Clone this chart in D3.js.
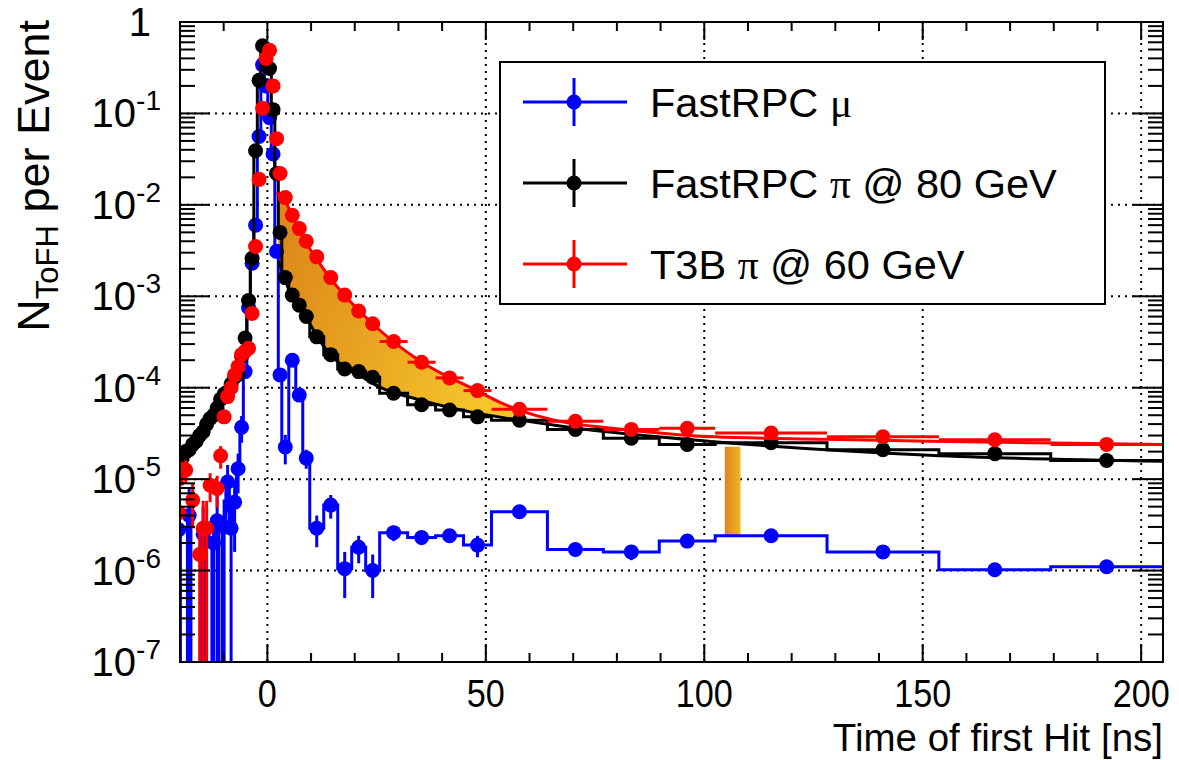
<!DOCTYPE html>
<html>
<head>
<meta charset="utf-8">
<script src="https://cdn.jsdelivr.net/npm/d3@7"></script>
<style>
  body { margin: 0; background: #fff; }
  text { font-family: "Liberation Sans", Arial, Helvetica, sans-serif; fill: #000; }
</style>
</head>
<body>
<div class="main-chart"></div>
<script>
// bin edges in ns (0.8 ns bins around the peak, wider bins in the tail)
const binEdges = [-20.7, -19.9, -19.1, -18.3, -17.5, -16.7, -15.9, -15.1, -14.3, -13.5,
  -12.7, -11.9, -11.1, -10.3, -9.5, -8.7, -7.9, -7.1, -6.3, -5.5,
  -4.7, -3.9, -3.1, -2.3, -1.5, -0.7, 0.1, 0.9, 1.7, 2.5, 3.3,
  4.9, 6.5, 8.1, 9.7,
  12.9, 16.1, 19.3, 22.5, 25.7,
  32.1, 38.5, 44.9, 51.3,
  64.1, 76.9, 89.7, 102.5,
  128.1, 153.7, 179.3, 204.9];

// FastRPC mu
const muVals = [2.8e-6, 0, 0, 4.0e-6, 0, 0, 0, 2.5e-6, 0, 0,
  2.0e-6, 3.5e-6, 0, 3.0e-6, 9.3e-6, 2.9e-6, 5.6e-6, 1.3e-5, 3.7e-5, 1.5e-4,
  7.5e-4, 2.3e-3, 6.0e-3, 0.056, 0.34, 0.20, 0.09, 0.036, 3.1e-3, 1.38e-4,
  2.25e-5, 2.0e-4, 8.3e-5, 1.7e-5,
  2.9e-6, 5.2e-6, 1.05e-6, 1.8e-6, 1.0e-6,
  2.6e-6, 2.3e-6, 2.4e-6, 1.9e-6,
  4.4e-6, 1.7e-6, 1.6e-6, 2.1e-6,
  2.4e-6, 1.6e-6, 1.02e-6, 1.1e-6];
const muErr = [2.8e-6, 0, 0, 4.0e-6, 0, 0, 0, 2.5e-6, 0, 0,
  2.0e-6, 3.5e-6, 0, 3.0e-6, 5.0e-6, 2.9e-6, 4.0e-6, 6.0e-6, 1.2e-5, 2.0e-5,
  5.0e-5, 1.0e-4, 2.0e-4, 1.0e-3, 3.0e-3, 2.0e-3, 1.0e-3, 6.0e-4, 1.0e-4, 2.0e-5,
  8.0e-6, 2.0e-5, 1.2e-5, 4.0e-6,
  1.1e-6, 1.5e-6, 0.55e-6, 0.6e-6, 0.5e-6,
  0.5e-6, 0.4e-6, 0.4e-6, 0.5e-6,
  0.4e-6, 0.25e-6, 0.3e-6, 0.25e-6,
  0.15e-6, 0.15e-6, 0.15e-6, 0.12e-6];

// FastRPC pi @ 80 GeV
const pi80Vals = [1.5e-5, 1.7e-5, 2.0e-5, 2.1e-5, 2.4e-5, 2.6e-5, 3.0e-5, 3.3e-5, 4.0e-5, 4.6e-5,
  5.0e-5, 6.0e-5, 7.5e-5, 8.5e-5, 9.0e-5, 1.1e-4, 1.3e-4, 1.4e-4, 2.2e-4, 3.5e-4,
  9.0e-4, 2.6e-3, 0.039, 0.23, 0.55, 0.50, 0.31, 0.11, 0.022, 5.0e-3,
  1.6e-3, 1.03e-3, 8.0e-4, 6.0e-4,
  3.6e-4, 2.3e-4, 1.6e-4, 1.5e-4, 1.3e-4,
  8.7e-5, 6.5e-5, 5.7e-5, 4.8e-5,
  4.4e-5, 3.5e-5, 2.8e-5, 2.4e-5,
  2.5e-5, 2.1e-5, 1.9e-5, 1.6e-5];
const pi80Err = [4.0e-6, 4.0e-6, 4.0e-6, 4.0e-6, 4.5e-6, 4.5e-6, 5.0e-6, 5.0e-6, 5.5e-6, 6.0e-6,
  6.0e-6, 7.0e-6, 8.0e-6, 8.0e-6, 9.0e-6, 1.0e-5, 1.1e-5, 1.2e-5, 1.5e-5, 2.0e-5,
  4.0e-5, 1.0e-4, 1.0e-3, 4.0e-3, 8.0e-3, 8.0e-3, 5.0e-3, 2.0e-3, 5.0e-4, 1.5e-4,
  5.0e-5, 3.0e-5, 2.5e-5, 2.0e-5,
  1.0e-5, 7.0e-6, 6.0e-6, 6.0e-6, 5.0e-6,
  3.0e-6, 2.5e-6, 2.5e-6, 2.0e-6,
  1.5e-6, 1.2e-6, 1.0e-6, 1.0e-6,
  8.0e-7, 7.0e-7, 7.0e-7, 6.0e-7];

// T3B pi @ 60 GeV (null = empty bin)
const pi60Vals = [4.3e-6, 1.2e-5, 1.26e-5, null, 5.9e-6, null, 1.5e-6, 2.9e-6, 2.9e-6, 8.6e-6,
  null, 7.9e-6, 1.8e-5, 4.8e-5, 8.0e-5, 1.0e-4, 1.38e-4, 1.7e-4, 2.3e-4, 2.5e-4,
  2.7e-4, 6.5e-4, 3.5e-3, 0.019, 0.114, 0.40, 0.49, 0.20, 0.053, 0.022,
  0.012, 7.7e-3, 5.5e-3, 4.0e-3,
  2.7e-3, 1.6e-3, 1.03e-3, 6.9e-4, 5.0e-4,
  3.2e-4, 1.9e-4, 1.28e-4, 9.3e-5,
  5.8e-5, 4.3e-5, 3.5e-5, 3.6e-5,
  3.2e-5, 2.9e-5, 2.7e-5, 2.4e-5];
const pi60Err = [3.0e-6, 3.5e-6, 3.5e-6, 0, 3.0e-6, 0, 1.5e-6, 2.9e-6, 2.9e-6, 3.0e-6,
  0, 3.0e-6, 5.0e-6, 8.0e-6, 1.0e-5, 1.2e-5, 1.4e-5, 1.6e-5, 2.0e-5, 2.2e-5,
  2.4e-5, 5.0e-5, 2.0e-4, 1.0e-3, 4.0e-3, 1.0e-2, 1.0e-2, 6.0e-3, 2.0e-3, 1.0e-3,
  5.0e-4, 3.0e-4, 2.0e-4, 1.6e-4,
  1.0e-4, 6.0e-5, 4.0e-5, 3.0e-5, 2.0e-5,
  1.2e-5, 8.0e-6, 5.0e-6, 4.0e-6,
  2.5e-6, 2.0e-6, 2.0e-6, 2.0e-6,
  1.5e-6, 1.5e-6, 1.5e-6, 1.5e-6];

// fitted curves
const fit80T = [2.5, 3.9, 5.4, 8.9, 11.9, 15.7, 20.3, 25.6, 34.7, 47.7, 53, 69, 102.3, 151.5, 205];
const fit80V = [2.4e-3, 1.6e-3, 1.03e-3, 5.9e-4, 3.3e-4, 2.0e-4, 1.45e-4, 1.02e-4, 7.4e-5, 5.3e-5, 4.8e-5, 3.7e-5, 2.57e-5, 1.83e-5, 1.57e-5];
const fit60T = [2.0, 3.66, 5.65, 8.69, 14.3, 23.9, 35.1, 47.9, 53, 69, 76.7, 102.3, 127.9, 151.5, 205];
const fit60V = [1.34e-2, 1.19e-2, 7.7e-3, 4.0e-3, 1.6e-3, 5.1e-4, 1.93e-4, 9.3e-5, 7.0e-5, 4.1e-5, 3.7e-5, 2.9e-5, 2.73e-5, 2.6e-5, 2.4e-5];

// shaded difference between the two pion curves
const bandT = [2.5, 3.9, 5.5, 8.9, 12, 16, 20, 25.6, 35, 47.7, 53, 60];
const bandTop = [1.3e-2, 1.15e-2, 7.9e-3, 3.9e-3, 2.4e-3, 1.35e-3, 7.8e-4, 4.4e-4, 1.95e-4, 9.4e-5, 7.0e-5, 4.7e-5];
const bandBottom = [2.4e-3, 1.6e-3, 1.03e-3, 5.9e-4, 3.3e-4, 1.95e-4, 1.48e-4, 1.02e-4, 7.3e-5, 5.3e-5, 4.8e-5, 4.7e-5];

// vertical marker bar
const barT = [104.7, 108.3];
const barV = [2.4e-6, 2.26e-5];

const xMajor = [0, 50, 100, 150, 200];
const xMinor = [-10, 10, 20, 30, 40, 60, 70, 80, 90, 110, 120, 130, 140, 160, 170, 180, 190];
const yExponents = [0, -1, -2, -3, -4, -5, -6, -7];

const legendRows = [
  { pre: "FastRPC ", greek: "\u03bc", post: "", color: "#0000ff" },
  { pre: "FastRPC ", greek: "\u03c0", post: " @ 80 GeV", color: "#000000" },
  { pre: "T3B ", greek: "\u03c0", post: " @ 60 GeV", color: "#ff0000" }
];

const W = 1179, H = 760;
const frame = { left: 180, right: 1163, top: 22, bottom: 662 };

const svg = d3.select(".main-chart").append("svg")
  .attr("width", W).attr("height", H);

const x = d3.scaleLinear().domain([-20, 205]).range([frame.left, frame.right]);
const y = d3.scaleLog().domain([1e-7, 1]).range([frame.bottom, frame.top]);
const yv = v => y(Math.max(v, 1e-9));

const defs = svg.append("defs");
defs.append("clipPath").attr("id", "plot-clip")
  .append("rect")
  .attr("x", frame.left).attr("y", frame.top)
  .attr("width", frame.right - frame.left).attr("height", frame.bottom - frame.top);

const bandGrad = defs.append("linearGradient").attr("id", "band-grad")
  .attr("x1", "0%").attr("x2", "100%").attr("y1", "0%").attr("y2", "30%");
bandGrad.append("stop").attr("offset", "0%").attr("stop-color", "#db8418");
bandGrad.append("stop").attr("offset", "100%").attr("stop-color", "#f5c52b");

const barGrad = defs.append("linearGradient").attr("id", "bar-grad")
  .attr("x1", "0%").attr("x2", "100%");
barGrad.append("stop").attr("offset", "0%").attr("stop-color", "#db861c");
barGrad.append("stop").attr("offset", "100%").attr("stop-color", "#f0b52c");

// grid
const grid = svg.append("g").attr("stroke", "#000").attr("stroke-width", 2)
  .attr("stroke-dasharray", "2,5");
grid.selectAll(".gx").data(xMajor).join("line")
  .attr("x1", d => x(d)).attr("x2", d => x(d))
  .attr("y1", frame.top).attr("y2", frame.bottom);
grid.selectAll(".gy").data(yExponents.slice(1, -1)).join("line")
  .attr("x1", frame.left).attr("x2", frame.right)
  .attr("y1", d => y(Math.pow(10, d))).attr("y2", d => y(Math.pow(10, d)));

const plot = svg.append("g").attr("clip-path", "url(#plot-clip)");

const bins = d3.range(binEdges.length - 1).map(i => ({
  lo: binEdges[i], hi: binEdges[i + 1], c: (binEdges[i] + binEdges[i + 1]) / 2
}));

// shaded band between the two fits
const band = bandT.map((t, i) => ({ t, top: bandTop[i], bot: bandBottom[i] }));
plot.append("path")
  .datum(band)
  .attr("fill", "url(#band-grad)")
  .attr("d", d3.area().curve(d3.curveMonotoneX)
    .x(d => x(d.t)).y0(d => y(d.bot)).y1(d => y(d.top)));

plot.append("rect")
  .attr("x", x(barT[0])).attr("width", x(barT[1]) - x(barT[0]))
  .attr("y", y(barV[1])).attr("height", y(barV[0]) - y(barV[1]))
  .attr("fill", "url(#bar-grad)");

function stepLine(vals) {
  const pts = [];
  bins.forEach((b, i) => {
    const v = vals[i] == null ? 0 : vals[i];
    pts.push([x(b.lo), yv(v)], [x(b.hi), yv(v)]);
  });
  return d3.line()(pts);
}

function drawSeries(vals, errs, color, opts) {
  const g = plot.append("g");
  if (opts.step) {
    g.append("path").attr("d", stepLine(vals))
      .attr("fill", "none").attr("stroke", color).attr("stroke-width", 3);
  }
  const pts = bins.map((b, i) => ({ b, v: vals[i], e: errs[i] }))
    .filter(d => d.v != null && d.v > 0);
  g.selectAll(".ey").data(pts).join("line")
    .attr("x1", d => x(d.b.c)).attr("x2", d => x(d.b.c))
    .attr("y1", d => y(d.v + d.e)).attr("y2", d => yv(d.v - d.e))
    .attr("stroke", color).attr("stroke-width", 3);
  if (opts.xerr) {
    g.selectAll(".ex").data(pts).join("line")
      .attr("x1", d => x(d.b.lo)).attr("x2", d => x(d.b.hi))
      .attr("y1", d => y(d.v)).attr("y2", d => y(d.v))
      .attr("stroke", color).attr("stroke-width", 3);
  }
  g.selectAll("circle").data(pts).join("circle")
    .attr("cx", d => x(d.b.c)).attr("cy", d => y(d.v)).attr("r", 7.5)
    .attr("fill", color);
}

function drawFit(ts, vs, color) {
  plot.append("path")
    .datum(ts.map((t, i) => [x(t), y(vs[i])]))
    .attr("d", d3.line().curve(d3.curveMonotoneX))
    .attr("fill", "none").attr("stroke", color).attr("stroke-width", 3);
}

drawSeries(muVals, muErr, "#0000ff", { step: true });
drawSeries(pi80Vals, pi80Err, "#000000", { step: true });
drawFit(fit80T, fit80V, "#000000");
drawSeries(pi60Vals, pi60Err, "#ff0000", { xerr: true });
drawFit(fit60T, fit60V, "#ff0000");

// frame and ticks
const axes = svg.append("g").attr("stroke", "#000").attr("stroke-width", 2);
axes.append("rect")
  .attr("x", frame.left).attr("y", frame.top)
  .attr("width", frame.right - frame.left).attr("height", frame.bottom - frame.top)
  .attr("fill", "none");

const xTicks = xMajor.map(v => ({ v, len: 18 })).concat(xMinor.map(v => ({ v, len: 9 })));
axes.selectAll(".xb").data(xTicks).join("line")
  .attr("x1", d => x(d.v)).attr("x2", d => x(d.v))
  .attr("y1", frame.bottom).attr("y2", d => frame.bottom - d.len);
axes.selectAll(".xt").data(xTicks).join("line")
  .attr("x1", d => x(d.v)).attr("x2", d => x(d.v))
  .attr("y1", frame.top).attr("y2", d => frame.top + d.len);

const yTicks = [];
yExponents.slice(1).forEach(p => {
  yTicks.push({ v: Math.pow(10, p), len: 30 });
  for (let k = 2; k <= 9; k++) yTicks.push({ v: k * Math.pow(10, p), len: 15 });
});
axes.selectAll(".yl").data(yTicks).join("line")
  .attr("x1", frame.left).attr("x2", d => frame.left + d.len)
  .attr("y1", d => y(d.v)).attr("y2", d => y(d.v));
axes.selectAll(".yr").data(yTicks).join("line")
  .attr("x1", frame.right).attr("x2", d => frame.right - d.len)
  .attr("y1", d => y(d.v)).attr("y2", d => y(d.v));

// tick labels (the source font is a little narrower than Liberation Sans)
svg.append("g").selectAll("text").data(xMajor).join("text")
  .attr("transform", d => `translate(${x(d)}, 707) scale(0.9, 1)`)
  .attr("text-anchor", "middle").attr("font-size", 38)
  .text(d => d);

const yLab = svg.append("g").selectAll("text").data(yExponents).join("text")
  .attr("x", d => d === 0 ? 151 : 161)
  .attr("y", d => y(Math.pow(10, d)) + 14)
  .attr("text-anchor", "end").attr("font-size", 40);
yLab.each(function (d) {
  const t = d3.select(this);
  if (d === 0) { t.text("1"); return; }
  t.append("tspan").text("10");
  t.append("tspan").attr("font-size", 28).attr("dy", -17).text(String(d));
});

// axis titles
svg.append("text")
  .attr("x", frame.right).attr("y", 751)
  .attr("text-anchor", "end").attr("font-size", 38.5)
  .text("Time of first Hit [ns]");

const yTitle = svg.append("text")
  .attr("transform", `translate(49, 20) rotate(-90)`)
  .attr("text-anchor", "end").attr("font-size", 45);
yTitle.append("tspan").text("N");
yTitle.append("tspan").attr("font-size", 31).attr("dy", 9).text("ToFH");
yTitle.append("tspan").attr("dy", -9).text(" per Event");

// legend
const leg = svg.append("g");
leg.append("rect").attr("x", 500).attr("y", 62).attr("width", 605).attr("height", 242)
  .attr("fill", "#fff").attr("stroke", "#000").attr("stroke-width", 2);
const rowY = [102, 183, 264];
legendRows.forEach((r, i) => {
  const g = leg.append("g").attr("transform", `translate(0, ${rowY[i]})`);
  g.append("line").attr("x1", 523).attr("x2", 627).attr("y1", 0).attr("y2", 0)
    .attr("stroke", r.color).attr("stroke-width", 3);
  g.append("line").attr("x1", 574).attr("x2", 574).attr("y1", -24).attr("y2", 24)
    .attr("stroke", r.color).attr("stroke-width", 3);
  g.append("circle").attr("cx", 574).attr("cy", 0).attr("r", 7.5).attr("fill", r.color);
  const t = g.append("text").attr("x", 650).attr("y", 15).attr("font-size", 41.5);
  t.append("tspan").text(r.pre);
  t.append("tspan").style("font-family", "'Liberation Serif', 'DejaVu Serif', serif").text(r.greek);
  t.append("tspan").text(r.post);
});
</script>
</body>
</html>
